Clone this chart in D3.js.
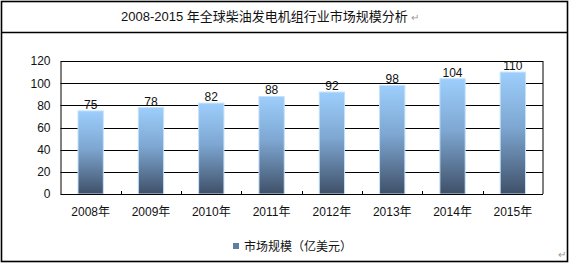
<!DOCTYPE html>
<html><head><meta charset="utf-8">
<script src="https://cdn.jsdelivr.net/npm/d3@7"></script>
<style>
html,body{margin:0;padding:0;background:#fff;}
text{font-family:"Liberation Sans",Arial,"Noto Sans CJK SC",sans-serif;}
</style></head>
<body>
<svg id="c" width="570" height="263"></svg>
<script>
const title = "2008-2015 年全球柴油发电机组行业市场规模分析";
const categories = ["2008年","2009年","2010年","2011年","2012年","2013年","2014年","2015年"];
const values = [75,78,82,88,92,98,104,110];
const yTicks = [0,20,40,60,80,100,120];
const seriesName = "市场规模（亿美元）";

const svg = d3.select("#c");
// outer table frame
svg.append("rect").attr("x",1.5).attr("y",1.5).attr("width",566).attr("height",260)
  .attr("fill","none").attr("stroke","#000").attr("stroke-width",1.6);
svg.append("line").attr("x1",1.5).attr("x2",567.5).attr("y1",32.5).attr("y2",32.5)
  .attr("stroke","#000").attr("stroke-width",1.6);

const tt = svg.append("text").attr("x",121).attr("y",21).attr("font-size",13).attr("fill","#111").text(title);
const tw = tt.node().getComputedTextLength();
svg.append("text").attr("x",121+tw+3).attr("y",21).attr("font-size",10).attr("fill","#999").text("↵");

const m = {l:60.5, r:543, t:61, b:194};
const x = d3.scaleBand().domain(categories).range([m.l,m.r]).paddingInner(0.58).paddingOuter(0.29);
const xb = d3.scaleBand().domain(categories).range([m.l,m.r]);
const y = d3.scaleLinear().domain([0,120]).range([m.b,m.t]);

const defs = svg.append("defs");
const g = defs.append("linearGradient").attr("id","bg").attr("x1",0).attr("y1",0).attr("x2",0).attr("y2",1);
g.append("stop").attr("offset","0%").attr("stop-color","#9dcefc");
g.append("stop").attr("offset","45%").attr("stop-color","#7ea7d2");
g.append("stop").attr("offset","100%").attr("stop-color","#3f5068");

// gridlines
svg.append("g").selectAll("line").data(yTicks.filter(d=>d>0)).join("line")
  .attr("x1",m.l).attr("x2",m.r).attr("y1",d=>Math.round(y(d))+0.5).attr("y2",d=>Math.round(y(d))+0.5)
  .attr("stroke","#000").attr("stroke-width",1);
// right border of plot
svg.append("line").attr("x1",m.r).attr("x2",m.r).attr("y1",m.t).attr("y2",m.b).attr("stroke","#000");

// bars
svg.append("g").selectAll("rect").data(values).join("rect")
  .attr("x",(d,i)=>x(categories[i])).attr("width",x.bandwidth())
  .attr("y",d=>y(d)).attr("height",d=>m.b-y(d))
  .attr("fill","url(#bg)").attr("stroke","#c5e2fb").attr("stroke-width",1);

// data labels
svg.append("g").selectAll("text").data(values).join("text")
  .attr("x",(d,i)=>x(categories[i])+x.bandwidth()/2).attr("y",d=>y(d)-2)
  .attr("text-anchor","middle").attr("font-size",12).attr("fill","#111").text(d=>d);

// y axis
const ya = d3.axisLeft(y).tickValues(yTicks).tickSize(0).tickPadding(10);
svg.append("g").attr("transform",`translate(${m.l},0)`).call(ya)
  .call(s=>s.selectAll("text").attr("font-size",12).attr("fill","#111").attr("font-family",null))
  .call(s=>s.select(".domain").attr("stroke","#000"));

// x axis
const xa = d3.axisBottom(x).tickSize(0).tickPadding(13);
svg.append("g").attr("transform",`translate(0,${m.b})`).call(xa)
  .call(s=>s.selectAll("text").attr("font-size",12).attr("fill","#111").attr("font-family",null))
  .call(s=>s.select(".domain").attr("d",`M${m.l},0.5H${m.r}`).attr("stroke","#000"));
// category boundary ticks (pointing up)
svg.append("g").selectAll("line").data(categories.slice(1)).join("line")
  .attr("x1",d=>Math.round(xb(d))+0.5).attr("x2",d=>Math.round(xb(d))+0.5)
  .attr("y1",m.b).attr("y2",m.b-3).attr("stroke","#000");

// legend
svg.append("rect").attr("x",233).attr("y",243).attr("width",6).attr("height",6).attr("fill","#5f7ea3");
svg.append("text").attr("x",244).attr("y",251).attr("font-size",12).attr("fill","#111").text(seriesName);
svg.append("text").attr("x",558).attr("y",258).attr("font-size",10).attr("fill","#999").text("↵");
</script>
</body></html>
